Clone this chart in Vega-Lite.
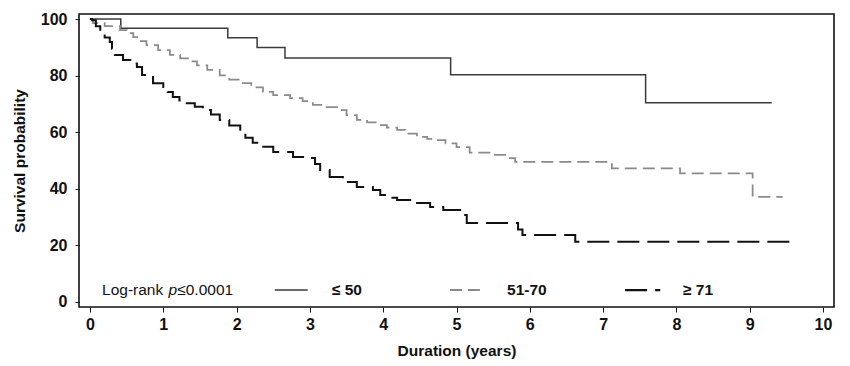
{
  "$schema": "https://vega.github.io/schema/vega-lite/v6.json",
  "width": 755,
  "height": 293,
  "autosize": {"type": "none"},
  "padding": {"left": 79, "top": 14, "right": 16, "bottom": 59},
  "background": "white",
  "config": {
    "view": {"stroke": "#111", "strokeWidth": 1.6},
    "font": "Liberation Sans",
    "axis": {
      "grid": false,
      "domain": false,
      "tickColor": "#111",
      "labelColor": "#111",
      "titleColor": "#111",
      "labelFont": "Liberation Sans",
      "titleFont": "Liberation Sans",
      "labelFontWeight": "bold",
      "titleFontWeight": "bold",
      "labelFontSize": 16,
      "titleFontSize": 15.5
    }
  },
  "data": {
    "values": [
      {"group": "≤ 50", "t": 0, "s": 100},
      {"group": "≤ 50", "t": 0.42, "s": 96.8},
      {"group": "≤ 50", "t": 1.88, "s": 93.4},
      {"group": "≤ 50", "t": 2.28, "s": 89.9},
      {"group": "≤ 50", "t": 2.66, "s": 86.2},
      {"group": "≤ 50", "t": 4.92, "s": 80.3},
      {"group": "≤ 50", "t": 7.58, "s": 70.4},
      {"group": "≤ 50", "t": 9.3, "s": 70.4},

      {"group": "51-70", "t": 0, "s": 100},
      {"group": "51-70", "t": 0.04, "s": 98.6},
      {"group": "51-70", "t": 0.2, "s": 97.5},
      {"group": "51-70", "t": 0.41, "s": 96.1},
      {"group": "51-70", "t": 0.5, "s": 95},
      {"group": "51-70", "t": 0.59, "s": 93.6},
      {"group": "51-70", "t": 0.68, "s": 92.2},
      {"group": "51-70", "t": 0.77, "s": 90.8},
      {"group": "51-70", "t": 0.93, "s": 89},
      {"group": "51-70", "t": 1.09, "s": 87.3},
      {"group": "51-70", "t": 1.23, "s": 86.1},
      {"group": "51-70", "t": 1.35, "s": 85},
      {"group": "51-70", "t": 1.46, "s": 83.6},
      {"group": "51-70", "t": 1.6, "s": 82},
      {"group": "51-70", "t": 1.77, "s": 80.1},
      {"group": "51-70", "t": 1.9, "s": 78.6},
      {"group": "51-70", "t": 2.05, "s": 77.3},
      {"group": "51-70", "t": 2.2, "s": 75.8},
      {"group": "51-70", "t": 2.36, "s": 74.2},
      {"group": "51-70", "t": 2.5, "s": 73.1},
      {"group": "51-70", "t": 2.73, "s": 72},
      {"group": "51-70", "t": 2.9, "s": 71},
      {"group": "51-70", "t": 3.04, "s": 69.6},
      {"group": "51-70", "t": 3.2, "s": 68.8},
      {"group": "51-70", "t": 3.37, "s": 67.8},
      {"group": "51-70", "t": 3.5, "s": 66},
      {"group": "51-70", "t": 3.64, "s": 64.3},
      {"group": "51-70", "t": 3.78, "s": 63.4},
      {"group": "51-70", "t": 3.91, "s": 62.5},
      {"group": "51-70", "t": 4.05, "s": 61.6},
      {"group": "51-70", "t": 4.19, "s": 60.8},
      {"group": "51-70", "t": 4.3, "s": 59.5},
      {"group": "51-70", "t": 4.46, "s": 58.3},
      {"group": "51-70", "t": 4.6, "s": 57.6},
      {"group": "51-70", "t": 4.73, "s": 57.2},
      {"group": "51-70", "t": 4.85, "s": 56},
      {"group": "51-70", "t": 5.0, "s": 54.7},
      {"group": "51-70", "t": 5.18, "s": 52.7},
      {"group": "51-70", "t": 5.5, "s": 51.9},
      {"group": "51-70", "t": 5.69, "s": 50.8},
      {"group": "51-70", "t": 5.8, "s": 49.5},
      {"group": "51-70", "t": 7.12, "s": 47.2},
      {"group": "51-70", "t": 8.05, "s": 45.4},
      {"group": "51-70", "t": 9.04, "s": 37.1},
      {"group": "51-70", "t": 9.45, "s": 37.1},

      {"group": "≥ 71", "t": 0, "s": 100},
      {"group": "≥ 71", "t": 0.03, "s": 99.6},
      {"group": "≥ 71", "t": 0.08, "s": 97.5},
      {"group": "≥ 71", "t": 0.14, "s": 95},
      {"group": "≥ 71", "t": 0.2, "s": 93.5},
      {"group": "≥ 71", "t": 0.27, "s": 91.9},
      {"group": "≥ 71", "t": 0.3, "s": 89.5},
      {"group": "≥ 71", "t": 0.34, "s": 87.3},
      {"group": "≥ 71", "t": 0.45, "s": 85.5},
      {"group": "≥ 71", "t": 0.55, "s": 84.3},
      {"group": "≥ 71", "t": 0.64, "s": 83},
      {"group": "≥ 71", "t": 0.71, "s": 80.2},
      {"group": "≥ 71", "t": 0.86, "s": 77.3},
      {"group": "≥ 71", "t": 1.0, "s": 76},
      {"group": "≥ 71", "t": 1.06, "s": 74.2},
      {"group": "≥ 71", "t": 1.13, "s": 72.4},
      {"group": "≥ 71", "t": 1.22, "s": 71.2},
      {"group": "≥ 71", "t": 1.32, "s": 70.2},
      {"group": "≥ 71", "t": 1.43, "s": 69},
      {"group": "≥ 71", "t": 1.54, "s": 67.8},
      {"group": "≥ 71", "t": 1.65, "s": 66.2},
      {"group": "≥ 71", "t": 1.77, "s": 64.3},
      {"group": "≥ 71", "t": 1.9, "s": 62.3},
      {"group": "≥ 71", "t": 2.05, "s": 60.1},
      {"group": "≥ 71", "t": 2.12, "s": 58},
      {"group": "≥ 71", "t": 2.22, "s": 56.2},
      {"group": "≥ 71", "t": 2.35, "s": 54.8},
      {"group": "≥ 71", "t": 2.5, "s": 53},
      {"group": "≥ 71", "t": 2.77, "s": 51.2},
      {"group": "≥ 71", "t": 3.0, "s": 50.8},
      {"group": "≥ 71", "t": 3.07, "s": 48.7},
      {"group": "≥ 71", "t": 3.14, "s": 46.6},
      {"group": "≥ 71", "t": 3.27, "s": 44.1},
      {"group": "≥ 71", "t": 3.45, "s": 42.3},
      {"group": "≥ 71", "t": 3.64, "s": 40.6},
      {"group": "≥ 71", "t": 3.86, "s": 39.5},
      {"group": "≥ 71", "t": 3.96, "s": 37.7},
      {"group": "≥ 71", "t": 4.05, "s": 36.8},
      {"group": "≥ 71", "t": 4.19, "s": 36},
      {"group": "≥ 71", "t": 4.41, "s": 34.9},
      {"group": "≥ 71", "t": 4.64, "s": 33.5},
      {"group": "≥ 71", "t": 4.82, "s": 32.4},
      {"group": "≥ 71", "t": 5.05, "s": 30.7},
      {"group": "≥ 71", "t": 5.14, "s": 27.8},
      {"group": "≥ 71", "t": 5.84, "s": 25.5},
      {"group": "≥ 71", "t": 5.9, "s": 23.6},
      {"group": "≥ 71", "t": 6.62, "s": 21.2},
      {"group": "≥ 71", "t": 9.58, "s": 21.2}
    ]
  },
  "layer": [
    {
      "mark": {"type": "line", "interpolate": "step-after"},
      "encoding": {
        "x": {
          "field": "t", "type": "quantitative",
          "scale": {"domain": [-0.15, 10.15], "nice": false, "zero": false},
          "axis": {"values": [0,1,2,3,4,5,6,7,8,9,10], "format": "d", "title": "Duration (years)", "tickSize": 5, "labelPadding": 4, "titlePadding": 11}
        },
        "y": {
          "field": "s", "type": "quantitative",
          "scale": {"domain": [-1.9, 101.8], "nice": false, "zero": false},
          "axis": {"values": [0,20,40,60,80,100], "format": "d", "title": "Survival probability", "tickSize": 4, "labelPadding": 8, "titlePadding": 13}
        },
        "color": {
          "field": "group", "type": "nominal",
          "scale": {"domain": ["≤ 50", "51-70", "≥ 71"], "range": ["#3a3a3a", "#8a8a8a", "#111111"]},
          "legend": null
        },
        "strokeDash": {
          "field": "group", "type": "nominal",
          "scale": {"domain": ["≤ 50", "51-70", "≥ 71"], "range": [[1, 0], [12, 6], [22, 8]]},
          "legend": null
        },
        "strokeWidth": {
          "field": "group", "type": "nominal",
          "scale": {"domain": ["≤ 50", "51-70", "≥ 71"], "range": [1.5, 2, 2.2]},
          "legend": null
        }
      }
    },
    {
      "data": {"values": [{}]},
      "mark": {"type": "rule", "color": "#3a3a3a", "strokeWidth": 1.5},
      "encoding": {"x": {"datum": 2.52}, "x2": {"datum": 2.97}, "y": {"datum": 4.1}}
    },
    {
      "data": {"values": [{}]},
      "mark": {"type": "rule", "color": "#8a8a8a", "strokeWidth": 2, "strokeDash": [12, 6]},
      "encoding": {"x": {"datum": 4.91}, "x2": {"datum": 5.35}, "y": {"datum": 4.1}}
    },
    {
      "data": {"values": [{}]},
      "mark": {"type": "rule", "color": "#111111", "strokeWidth": 2.2, "strokeDash": [22, 8]},
      "encoding": {"x": {"datum": 7.30}, "x2": {"datum": 7.78}, "y": {"datum": 4.1}}
    },
    {
      "data": {"values": [{}]},
      "mark": {"type": "text", "text": "Log-rank", "align": "left", "baseline": "middle", "fontSize": 15.5, "font": "Liberation Sans", "color": "#111"},
      "encoding": {"x": {"datum": 0.164}, "y": {"datum": 4.1}}
    },
    {
      "data": {"values": [{}]},
      "mark": {"type": "text", "text": "p", "align": "left", "baseline": "middle", "fontSize": 15.5, "fontStyle": "italic", "font": "Liberation Sans", "color": "#111"},
      "encoding": {"x": {"datum": 1.07}, "y": {"datum": 4.1}}
    },
    {
      "data": {"values": [{}]},
      "mark": {"type": "text", "text": "≤0.0001", "align": "left", "baseline": "middle", "fontSize": 15.5, "font": "Liberation Sans", "color": "#111"},
      "encoding": {"x": {"datum": 1.19}, "y": {"datum": 4.1}}
    },
    {
      "data": {"values": [{}]},
      "mark": {"type": "text", "text": "≤ 50", "align": "left", "baseline": "middle", "fontSize": 15.5, "fontWeight": "bold", "font": "Liberation Sans", "color": "#111"},
      "encoding": {"x": {"datum": 3.30}, "y": {"datum": 4.1}}
    },
    {
      "data": {"values": [{}]},
      "mark": {"type": "text", "text": "51-70", "align": "left", "baseline": "middle", "fontSize": 15.5, "fontWeight": "bold", "font": "Liberation Sans", "color": "#111"},
      "encoding": {"x": {"datum": 5.69}, "y": {"datum": 4.1}}
    },
    {
      "data": {"values": [{}]},
      "mark": {"type": "text", "text": "≥ 71", "align": "left", "baseline": "middle", "fontSize": 15.5, "fontWeight": "bold", "font": "Liberation Sans", "color": "#111"},
      "encoding": {"x": {"datum": 8.09}, "y": {"datum": 4.1}}
    }
  ]
}
